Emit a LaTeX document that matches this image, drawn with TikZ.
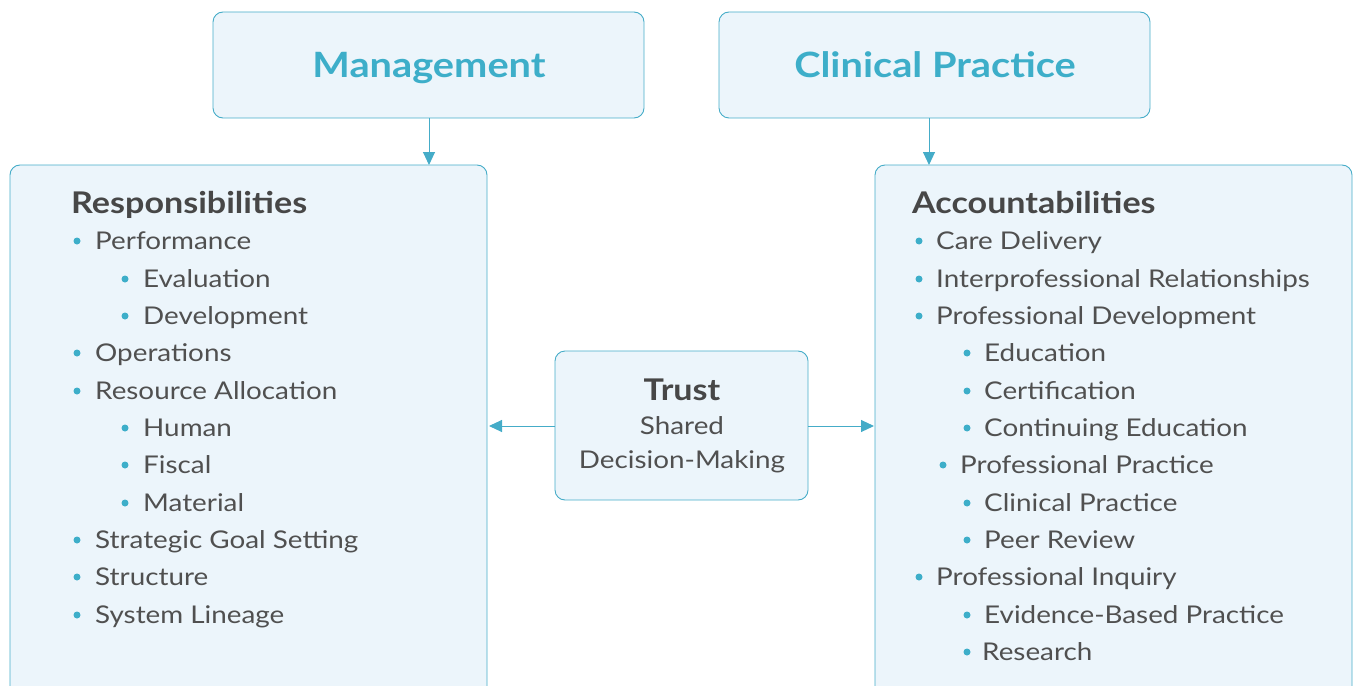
\documentclass[tikz,border=0pt]{standalone}
\usepackage{fontspec}
\setmainfont{Lato}[FakeStretch=1.14]
\usetikzlibrary{arrows.meta}
\definecolor{edge}{HTML}{45ACC8}
\definecolor{boxfill}{HTML}{ECF5FB}
\definecolor{titlec}{HTML}{3DAEC9}
\definecolor{txt}{HTML}{505050}
\definecolor{head}{HTML}{474747}
\tikzset{
  panel/.style={draw=edge, fill=boxfill, line width=0.9bp, rounded corners=10bp},
  titletext/.style={anchor=base, inner sep=0pt, text=titlec, font=\fontsize{35}{40}\selectfont\bfseries},
  headtext/.style={anchor=base west, inner sep=0pt, text=head, font=\fontsize{30}{34}\selectfont\bfseries},
  itemtext/.style={anchor=base west, inner sep=0pt, text=txt, font=\fontsize{24.5}{28}\selectfont},
  midtext/.style={anchor=base, inner sep=0pt, text=txt, font=\fontsize{24.5}{28}\selectfont},
  bul/.style={circle, fill=titlec, inner sep=0pt, minimum size=7bp},
  conn/.style={draw=edge, line width=1bp, -{Triangle[length=13bp,width=12bp]}},
}
\begin{document}
\begin{tikzpicture}[x=1bp,y=-1bp]
\useasboundingbox (0,0) rectangle (1353,685);
\begin{scope}
\clip (0,0) rectangle (1353,685);
% boxes
\path[panel] (213,12) rectangle (644,118);
\node[titletext] (mgmt) at (429,78) {Management};
\path[panel] (719,12) rectangle (1150,118);
\node[titletext] (clin) at (935,78) {Clinical Practice};
\path[panel] (10,165) rectangle (487,700);
\path[panel] (875,165) rectangle (1352,700);
\path[panel] (555,351) rectangle (808,500);
\coordinate (mgmtB) at (429,118);
\coordinate (respT) at (429,165);
\coordinate (clinB) at (929,118);
\coordinate (accT) at (929,165);
\coordinate (trustL) at (555,426);
\coordinate (trustR) at (808,426);
\coordinate (respR) at (489,426);
\coordinate (accL) at (874,426);
\draw[conn] (mgmtB) -- (respT);
\draw[conn] (clinB) -- (accT);
\draw[conn] (trustL) -- (respR);
\draw[conn] (trustR) -- (accL);
% trust text
\node[anchor=base, inner sep=0pt, text=head, font=\fontsize{30}{34}\selectfont\bfseries] (trust) at (682,400) {Trust};
\node[midtext] (shared) at (682,434) {Shared};
\node[midtext] (dm) at (682,468) {Decision-Making};
% left list
\node[headtext] (resp) at (71,213) {Responsibilities};
\foreach \bx/\tx/\yy/\t [count=\i] in {
  77/95/241/Performance,
  125/143/279/Evaluation,
  125/143/316/Development,
  77/95/353/Operations,
  77/95/391/Resource Allocation,
  125/143/428/Human,
  125/143/465/Fiscal,
  125/143/503/Material,
  77/95/540/Strategic Goal Setting,
  77/95/577/Structure,
  77/95/615/System Lineage}{
  \node[bul] (lb\i) at (\bx,\yy) {};
  \node[itemtext] (lt\i) at (\tx,\yy+8) {\t};
}
% right list
\node[headtext] (acc) at (912,213) {Accountabilities};
\foreach \bx/\tx/\yy/\t [count=\i] in {
  919/936/241/Care Delivery,
  919/936/279/Interprofessional Relationships,
  919/936/316/Professional Development,
  967/984/353/Education,
  967/984/391/Certification,
  967/984/428/Continuing Education,
  943/960/465/Professional Practice,
  967/984/503/Clinical Practice,
  967/984/540/Peer Review,
  919/936/577/Professional Inquiry,
  967/984/615/Evidence-Based Practice,
  967/982/652/Research}{
  \node[bul] (rb\i) at (\bx,\yy) {};
  \node[itemtext] (rt\i) at (\tx,\yy+8) {\t};
}
\end{scope}
\end{tikzpicture}
\end{document}
